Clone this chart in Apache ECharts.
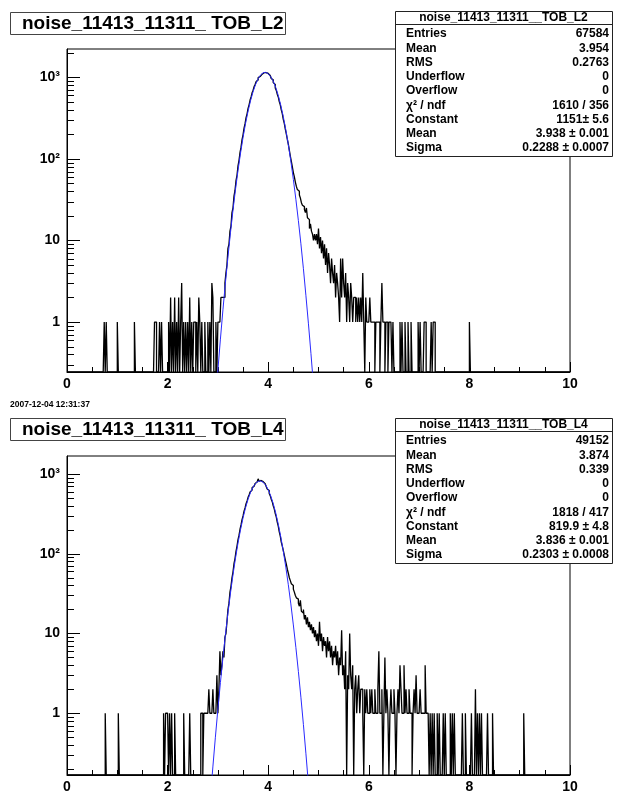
<!DOCTYPE html>
<html><head><meta charset="utf-8">
<script src="https://cdn.jsdelivr.net/npm/echarts@6/dist/echarts.min.js"></script>
<style>html,body{margin:0;padding:0;background:#fff;}#c{width:617px;height:794px;}</style>
</head><body><div id="c"></div>
<script>
// ---------------- data ----------------
const BIN_WIDTH = 0.02;
const N_BINS = 500;
const xMin = 0, xMax = 10, xInterval = 2;
const yTickLabels = {1: '1', 10: '10', 100: '10\u00b2', 1000: '10\u00b3'};
const yMinorMultipliers = [2, 3, 4, 5, 6, 7, 8, 9];
const yDecades = [0.1, 1, 10, 100, 1000];
const statLabels = ['Entries', 'Mean', 'RMS', 'Underflow', 'Overflow', '\u03c7\u00b2 / ndf', 'Constant', 'Mean', 'Sigma'];

// ---- TOB_L2 ----
const l2Title = 'noise_11413_11311_ TOB_L2';
const l2StatHeader = 'noise_11413_11311__TOB_L2';
const l2StatValues = ['67584', '3.954', '0.2763', '0', '0', '1610 / 356', '1151\u00b1 5.6', '3.938 \u00b1 0.001', '0.2288 \u00b1 0.0007'];
const l2YRange = [0.244, 2223];
const l2LowX = [0.75,0.79,1.01,1.35,1.75,1.77,1.85,1.89,2.03,2.07,2.11,2.15,2.19,2.23,2.27,2.29,2.33,2.37,2.41,2.45,2.49,2.53,2.55,2.59,2.63,2.65,2.69,2.75,2.81,2.85,2.89,2.91,2.97];
const l2LowN = [1,1,1,1,1,1,1,1,1,2,1,2,1,2,1,3,1,1,1,2,1,1,1,1,2,1,1,1,1,1,3,2,1];
const l2DenseStart = 3.00;
const l2Dense = [
  1,1,1,2,2,2,2,3,4,5,
  8,9,13,15,22,25,35,41,54,63,
  82,96,120,139,172,197,238,270,320,357,
  416,460,526,574,646,694,768,815,886,928,
  990,1022,1075,1094,1132,1138,1170,1143,1146,1115,
  1100,1054,1028,968,930,860,815,742,694,621,
  575,505,460,398,358,305,272,232,203,174,
  152,128,108,93,80,68,60,52,46,42,
  40,36,33,29,27,26,24,22,25,19,
  18,14,16,13,12,10,12,10,12,9,
  14,8,11,7,10,6,9,5,8,4,
  7,5,3,6,4,3,5,2,4,3,
  2,1,6,2,6,3,2,4,1,3,
  2,1,3,2,1,2,2,1,2,1,
  2,1,2,1,4,1,0,2,1,1
];
const l2HighX = [6.01,6.03,6.05,6.07,6.09,6.11,6.15,6.17,6.19,6.21,6.25,6.27,6.29,6.31,6.35,6.37,6.41,6.43,6.45,6.49,6.63,6.67,6.73,6.79,6.85,6.99,7.03,7.11,7.13,7.25,7.29,7.31,8.01];
const l2HighN = [1,2,1,1,1,1,1,1,1,1,1,3,1,1,1,1,1,1,1,1,1,1,1,1,1,1,1,1,1,1,1,1,1];
const l2FitStart = 2.95, fitStep = 0.05;
const l2FitY = [0.103,0.258,0.617,1.41,3.05,6.3,12.5,23.6,42.4,72.5,118,184,273,386,521,670,821,959,1069,1135,1149,1109,1021,896,749,598,454,329,227,150,94,56,32,17.5,9.1,4.5,2.1,0.95,0.41,0.167,0.065];

// ---- TOB_L4 ----
const l4Title = 'noise_11413_11311_ TOB_L4';
const l4StatHeader = 'noise_11413_11311__TOB_L4';
const l4StatValues = ['49152', '3.874', '0.339', '0', '0', '1818 / 417', '819.9 \u00b1 4.8', '3.836 \u00b1 0.001', '0.2303 \u00b1 0.0008'];
const l4YRange = [0.168, 1683];
const l4LowX = [0.77,1.03,1.93,1.97,1.99,2.01,2.05,2.09,2.15,2.33,2.45,2.67,2.69,2.73,2.75,2.77,2.79];
const l4LowN = [1,1,1,1,1,1,1,1,1,1,1,1,1,1,1,1,1];
const l4DenseStart = 2.80;
const l4Dense = [
  1,2,1,1,1,2,1,1,1,3,
  1,2,6,3,4,6,5,9,10,14,
  20,24,33,39,50,59,75,87,107,125,
  150,171,203,230,268,298,342,376,424,460,
  510,546,596,628,675,702,742,760,793,800,
  870,812,830,805,802,772,758,718,697,650,
  620,570,536,484,450,400,366,320,290,250,
  222,188,166,140,125,110,96,84,74,64,
  57,50,46,42,40,36,33,30,28,27,
  24,22,26,19,18,20,15,17,13,16,
  12,14,11,13,10,12,9,11,8,10,
  7,14,8,10,6,9,7,8,5,9,
  6,8,5,7,4,6,5,7,4,6,
  3,5,4,11,3,4,2,6,0,3,
  2,10,3,2,4,0,2,3,1,2,
  3,1,2,2,1,0,2,1,2,1
];
const l4HighX = [6.01,6.03,6.05,6.07,6.09,6.11,6.13,6.15,6.17,6.19,6.21,6.23,6.25,6.27,6.31,6.33,6.35,6.37,6.39,6.43,6.45,6.47,6.49,6.51,6.53,6.57,6.59,6.61,6.63,6.65,6.67,6.69,6.71,6.73,6.75,6.77,6.79,6.81,6.83,6.85,6.89,6.91,6.93,6.95,6.97,6.99,7.01,7.03,7.05,7.07,7.09,7.11,7.13,7.15,7.17,7.19,7.23,7.27,7.31,7.37,7.41,7.49,7.53,7.63,7.67,7.71,7.87,7.93,8.05,8.13,8.17,8.21,8.25,8.37,8.47,9.09];
const l4HighN = [1,2,1,2,1,1,2,1,1,2,6,1,1,2,1,5,1,2,1,1,2,1,1,2,1,1,2,1,4,2,1,1,4,1,2,1,1,2,1,1,1,2,1,3,1,1,1,2,1,1,1,1,4,1,1,1,1,1,1,1,1,1,1,1,1,1,1,1,1,2,1,1,1,1,1,1];
const l4FitStart = 2.85;
const l4FitY = [0.086,0.212,0.50,1.13,2.42,4.97,9.7,18.1,32.2,54.6,88.5,137,201,283,379,485,592,689,765,810,818,789,725,636,532,425,324,235,163,108,68,40.9,23.5,12.8,6.7,3.34,1.59,0.72,0.31,0.128,0.05];

const dateText = '2007-12-04 12:31:37';

// ---------------- helpers ----------------
const FONT = '"Liberation Sans", Arial, Helvetica, sans-serif';
function buildBins(lowX, lowN, denseStart, dense, highX, highN) {
  const bins = new Array(N_BINS).fill(0);
  const put = (x, n) => { bins[Math.round((x - BIN_WIDTH / 2) / BIN_WIDTH)] = n; };
  lowX.forEach((x, i) => put(x, lowN[i]));
  highX.forEach((x, i) => put(x, highN[i]));
  const s = Math.round(denseStart / BIN_WIDTH);
  dense.forEach((n, i) => { bins[s + i] = n; });
  return bins;
}
function stepPath(bins, floor) {
  const pts = [];
  bins.forEach((n, i) => {
    const v = n > 0 ? n : floor;
    pts.push([+(i * BIN_WIDTH).toFixed(4), v], [+((i + 1) * BIN_WIDTH).toFixed(4), v]);
  });
  return pts;
}
function fitPath(start, ys) { return ys.map((y, i) => [+(start + i * fitStep).toFixed(4), y]); }
function minorTicks(range) {
  const out = [];
  yDecades.forEach(d => yMinorMultipliers.forEach(m => { const v = +(d * m).toPrecision(6); if (v > range[0] && v < range[1]) out.push([0, v]); }));
  return out;
}

const grids = [
  {left: 67, top: 49, width: 503, height: 323},
  {left: 67, top: 456, width: 503, height: 323}
];
const ranges = [l2YRange, l4YRange];

function xAxisCfg(gi) {
  return {
    gridIndex: gi, type: 'value', min: xMin, max: xMax, interval: xInterval,
    axisLine: {show: true, onZero: false, lineStyle: {color: '#000', width: 1}},
    axisTick: {show: true, inside: true, length: 10, lineStyle: {color: '#000'}},
    minorTick: {show: true, splitNumber: 4, length: 5, lineStyle: {color: '#000'}},
    splitLine: {show: false},
    axisLabel: {margin: 5, color: '#000', fontFamily: FONT, fontWeight: 'bold', fontSize: 14}
  };
}
function yAxisCfg(gi) {
  return {
    gridIndex: gi, type: 'log', logBase: 10, min: ranges[gi][0], max: ranges[gi][1],
    axisLine: {show: true, lineStyle: {color: '#000', width: 1}},
    axisTick: {show: true, inside: true, length: 13, lineStyle: {color: '#000'}},
    splitLine: {show: false},
    axisLabel: {
      margin: 7, color: '#000', fontFamily: FONT, fontWeight: 'bold', fontSize: 14,
      showMinLabel: false, showMaxLabel: false,
      formatter: v => { const r = Math.round(v); return (Math.abs(v - r) < 1e-6 * Math.max(1, r) && yTickLabels[r]) ? yTickLabels[r] : ''; }
    }
  };
}
function tickSeries(gi) {
  return {
    type: 'custom', xAxisIndex: gi, yAxisIndex: gi, coordinateSystem: 'cartesian2d', silent: true, animation: false,
    data: minorTicks(ranges[gi]),
    renderItem: (params, api) => {
      const p = api.coord([api.value(0), api.value(1)]);
      const y = Math.round(p[1]) + 0.5;
      return {type: 'line', shape: {x1: p[0], y1: y, x2: p[0] + 7, y2: y}, style: {stroke: '#000', lineWidth: 1}};
    }
  };
}
function histSeries(gi, bins) {
  return {
    type: 'line', xAxisIndex: gi, yAxisIndex: gi, data: stepPath(bins, ranges[gi][0]),
    showSymbol: false, symbol: 'none', clip: true, animation: false, silent: true,
    lineStyle: {color: '#000', width: 1.3}
  };
}
function fitSeries(gi, start, ys) {
  return {
    type: 'line', xAxisIndex: gi, yAxisIndex: gi, data: fitPath(start, ys),
    showSymbol: false, symbol: 'none', clip: true, animation: false, silent: true,
    lineStyle: {color: '#2a2aff', width: 1}
  };
}
function statBox(top, header, values) {
  const L = 395, R = 612, W = R - L, H = 145;
  const els = [
    {type: 'rect', shape: {x: L + 0.5, y: top + 0.5, width: W, height: H}, style: {fill: '#fff', stroke: '#222', lineWidth: 1}, z: 100},
    {type: 'line', shape: {x1: L, y1: top + 13.5, x2: R, y2: top + 13.5}, style: {stroke: '#222', lineWidth: 1}, z: 101},
    {type: 'text', x: (L + R) / 2, y: top + 7, style: {text: header, font: 'bold 12px ' + FONT, fill: '#000', textAlign: 'center', textVerticalAlign: 'middle', verticalAlign: 'middle'}, z: 102}
  ];
  statLabels.forEach((lab, i) => {
    const y = top + 23 + i * 14.27;
    els.push({type: 'text', x: L + 11, y: y, style: {text: lab, font: 'bold 12px ' + FONT, fill: '#000', textAlign: 'left', textVerticalAlign: 'middle', verticalAlign: 'middle'}, z: 102});
    els.push({type: 'text', x: R - 3, y: y, style: {text: values[i], font: 'bold 12px ' + FONT, fill: '#000', textAlign: 'right', textVerticalAlign: 'middle', verticalAlign: 'middle'}, z: 102});
  });
  return els;
}
function titleBox(top, text) {
  return [
    {type: 'rect', shape: {x: 10.5, y: top + 0.5, width: 275, height: 22}, style: {fill: '#fff', stroke: '#444', lineWidth: 1}, z: 100},
    {type: 'text', x: 22, y: top + 11.5, style: {text: text, font: 'bold 19px ' + FONT, fill: '#000', textAlign: 'left', textVerticalAlign: 'middle', verticalAlign: 'middle'}, z: 101}
  ];
}

const l2Bins = buildBins(l2LowX, l2LowN, l2DenseStart, l2Dense, l2HighX, l2HighN);
const l4Bins = buildBins(l4LowX, l4LowN, l4DenseStart, l4Dense, l4HighX, l4HighN);

const option = {
  backgroundColor: '#fff',
  animation: false,
  grid: grids.map(g => Object.assign({show: true, borderColor: '#000', borderWidth: 1, backgroundColor: 'transparent'}, g)),
  xAxis: [xAxisCfg(0), xAxisCfg(1)],
  yAxis: [yAxisCfg(0), yAxisCfg(1)],
  series: [
    tickSeries(0), histSeries(0, l2Bins), fitSeries(0, l2FitStart, l2FitY),
    tickSeries(1), histSeries(1, l4Bins), fitSeries(1, l4FitStart, l4FitY)
  ],
  graphic: [].concat(
    titleBox(12, l2Title),
    statBox(11, l2StatHeader, l2StatValues),
    [{type: 'text', x: 10, y: 405, style: {text: dateText, font: 'bold 8.5px ' + FONT, fill: '#000', textAlign: 'left', textVerticalAlign: 'middle', verticalAlign: 'middle'}, z: 101}],
    titleBox(418, l4Title),
    statBox(418, l4StatHeader, l4StatValues)
  )
};
const chart = echarts.init(document.getElementById('c'), null, {renderer: 'canvas'});
chart.setOption(option);
</script></body></html>
